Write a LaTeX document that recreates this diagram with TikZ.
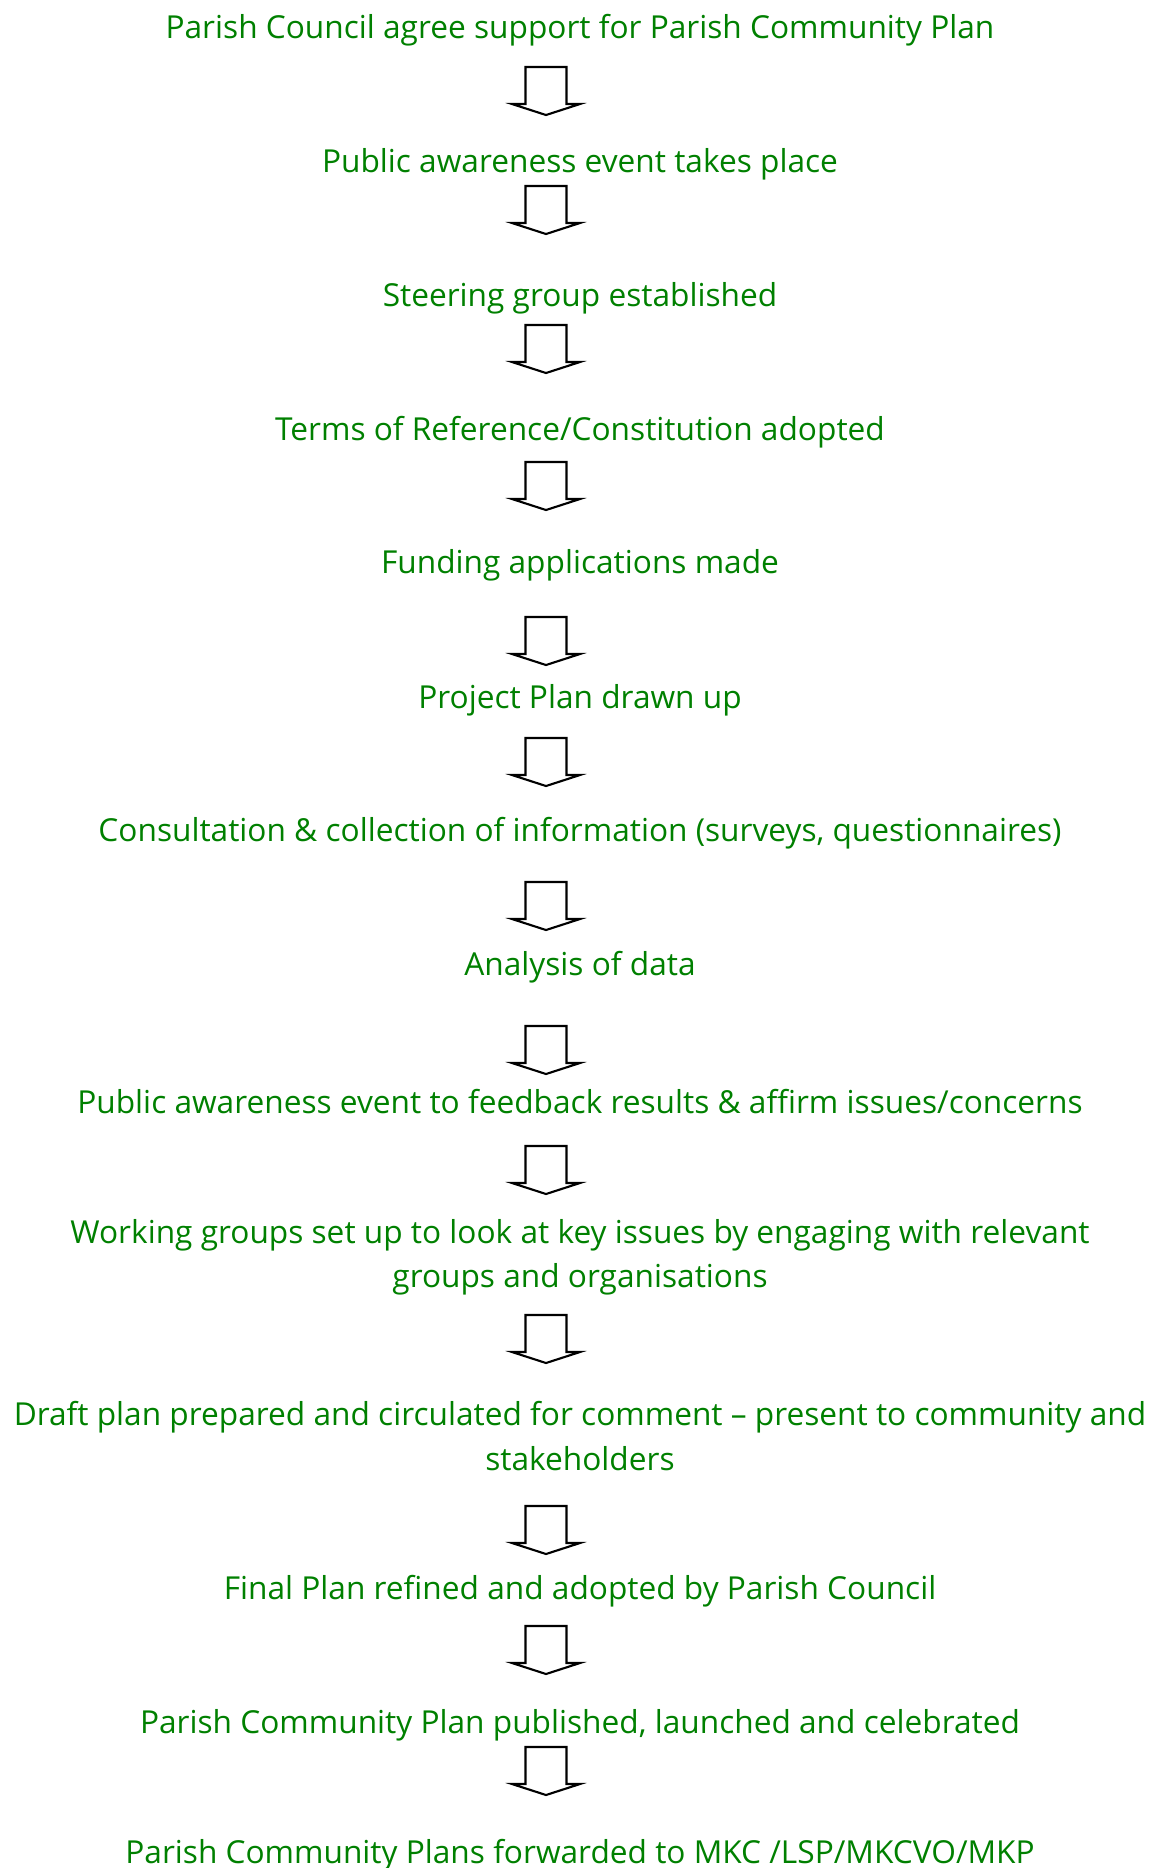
\documentclass[tikz,border=0pt]{standalone}
\usepackage{fontspec}
\setmainfont{Open Sans}
\usepackage{xcolor}
\usetikzlibrary{positioning}
\definecolor{stepgreen}{RGB}{0,128,0}

\begin{document}
\begin{tikzpicture}[
  x=0.01cm,y=-0.01cm,
  stage/.style={text=stepgreen,align=center,font=\fontsize{9}{12.6}\selectfont,inner sep=0pt},
  downarr/.style={draw=black,line width=0.6pt,fill=white,line join=miter},
]
  \useasboundingbox (0,0) rectangle (1162,1868);

  \node[stage] (s1) at (580,30) {Parish Council agree support for Parish Community Plan};
  \node[stage] (s2) at (580,164) {Public awareness event takes place};
  \node[stage] (s3) at (580,298) {Steering group established};
  \node[stage] (s4) at (580,432) {Terms of Reference/Constitution adopted};
  \node[stage] (s5) at (580,565) {Funding applications made};
  \node[stage] (s6) at (580,700) {Project Plan drawn up};
  \node[stage] (s7) at (580,833) {Consultation \& collection of information (surveys, questionnaires)};
  \node[stage] (s8) at (580,967) {Analysis of data};
  \node[stage] (s9) at (580,1102) {Public awareness event to feedback results \& affirm issues/concerns};
  \node[stage] (s10) at (580,1257) {Working groups set up to look at key issues by engaging with relevant\\groups and organisations};
  \node[stage] (s11) at (580,1436) {Draft plan prepared and circulated for comment -- present to community and\\stakeholders};
  \node[stage] (s12) at (580,1591) {Final Plan refined and adopted by Parish Council};
  \node[stage] (s13) at (580,1725) {Parish Community Plan published, launched and celebrated};
  \node[stage] (s14) at (580,1855) {Parish Community Plans forwarded to MKC /LSP/MKCVO/MKP};

  % block arrows between the stages (top of each arrow)
  \foreach \t in {67,186,325,462,617,738,882,1026,1146,1315,1506,1626,1747}
    \draw[downarr] (525.5,\t) -- (566.5,\t) -- (566.5,\t+37) -- (580,\t+37)
      -- (546,\t+48) -- (512,\t+37) -- (525.5,\t+37) -- cycle;
\end{tikzpicture}
\end{document}
